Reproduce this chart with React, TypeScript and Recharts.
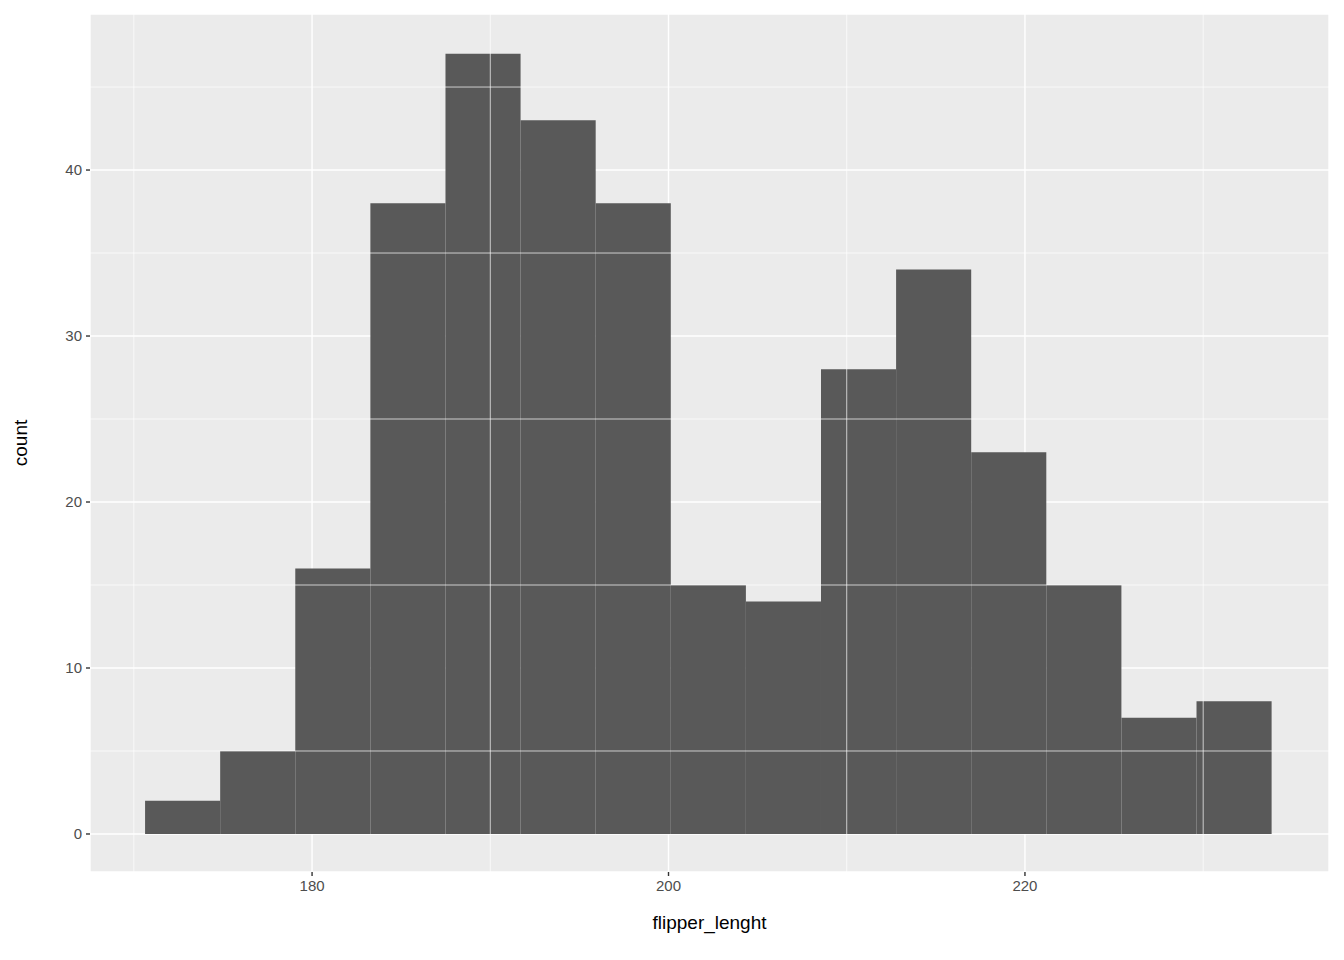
import React from "react";
import { ComposedChart, Bar, XAxis, YAxis, CartesianGrid, ReferenceLine } from "recharts";

// histogram bins (15 bins, width ~4.214)
const binStart = 170.63;
const binWidth = 4.214;
const counts = [2, 5, 16, 38, 47, 43, 38, 15, 14, 28, 34, 23, 15, 7, 8];
const xTicks = [180, 200, 220];
const yTicks = [0, 10, 20, 30, 40];
const xMinor = [170, 190, 210, 230];
const yMinor = [5, 15, 25, 35, 45];

const data = counts.map((c, i) => ({ x: binStart + binWidth * (i + 0.5), count: c }));

const tickStyle = { fill: "#4D4D4D", fontSize: 15, fontFamily: "Liberation Sans, Arial, sans-serif" };
const titleStyle = { fill: "#000", fontSize: 19, fontFamily: "Liberation Sans, Arial, sans-serif" };

export default function App() {
  return (
    <div style={{ position: "absolute", left: 0, top: 0, background: "#fff" }}>
      <ComposedChart width={1344} height={960} data={data} margin={{ top: 14, right: 15, left: 0, bottom: 0 }}>
        <CartesianGrid fill="#EBEBEB" stroke="#FFFFFF" strokeWidth={1.4} />
        {xMinor.map((v) => (
          <ReferenceLine key={"vx" + v} x={v} stroke="#FFFFFF" strokeWidth={0.7} />
        ))}
        {yMinor.map((v) => (
          <ReferenceLine key={"hy" + v} y={v} stroke="#FFFFFF" strokeWidth={0.7} />
        ))}
        <XAxis
          dataKey="x"
          type="number"
          domain={[167.54, 237.06]}
          allowDataOverflow
          ticks={xTicks}
          height={88}
          axisLine={false}
          tickSize={4}
          tickLine={{ stroke: "#333333", strokeWidth: 1.4 }}
          tick={tickStyle}
          tickMargin={4}
          label={{ value: "flipper_lenght", position: "insideTop", offset: 44, style: titleStyle }}
        />
        <YAxis
          type="number"
          domain={[-2.29, 49.4]}
          allowDataOverflow
          ticks={yTicks}
          width={90}
          axisLine={false}
          tickSize={4}
          tickLine={{ stroke: "#333333", strokeWidth: 1.4 }}
          tick={tickStyle}
          tickMargin={4}
          label={{ value: "count", angle: -90, position: "insideLeft", offset: 20, style: { ...titleStyle, textAnchor: "middle" } }}
        />
        <Bar dataKey="count" fill="#595959" barSize={75.1} isAnimationActive={false} />
      </ComposedChart>
    </div>
  );
}
